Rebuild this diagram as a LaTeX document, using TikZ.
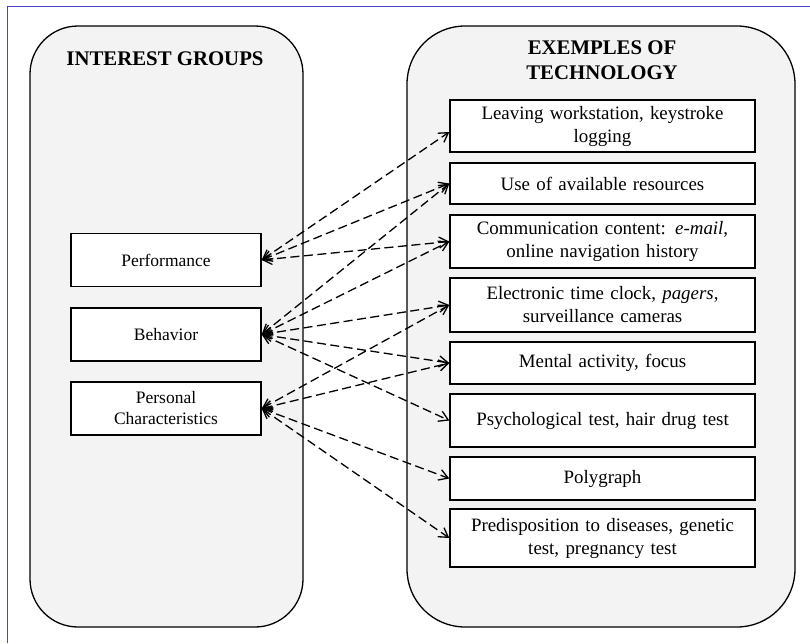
\documentclass[tikz,border=0pt]{standalone}
\usepackage{fontspec}
\setmainfont{Liberation Serif}
\usetikzlibrary{arrows.meta}
\definecolor{panelgray}{RGB}{243,243,243}
\definecolor{frameblue}{RGB}{70,70,205}
\begin{document}
\begin{tikzpicture}[x=1pt,y=-1pt,
  panel/.style={draw=black, line width=1.3pt, fill=panelgray},
  itembox/.style={draw=black, line width=1.4pt, fill=white, align=center, inner xsep=1pt, inner ysep=0pt, text width=303pt, font=\fontsize{18.9}{23}\selectfont},
  groupbox/.style={draw=black, line width=1.4pt, fill=white, align=center, inner sep=0pt, minimum width=190pt, minimum height=53pt, font=\fontsize{17.5}{21}\selectfont},
  paneltitle/.style={font=\bfseries\fontsize{20.8}{25}\selectfont, align=center},
  link/.style={dash pattern=on 9pt off 4.5pt, line width=1.3pt, {Straight Barb[length=9pt,width=11pt,line width=1.3pt]}-{Straight Barb[length=9pt,width=11pt,line width=1.3pt]}}
]
\useasboundingbox (0,0) rectangle (810,643);
\fill[white] (0,0) rectangle (810,643);
\draw[frameblue, line width=0.8pt] (7,643) -- (7,6) -- (810,6);

\draw[panel, rounded corners=48pt] (30,26) rectangle (303,627);
\draw[panel, rounded corners=58pt] (407,26) rectangle (795,627);

\node[paneltitle] (tl) at (165,59) {INTEREST GROUPS};
\node[paneltitle] (tr) at (602,60) {EXEMPLES OF\\TECHNOLOGY};

\node[groupbox] (perf) at (166,260) {Performance};
\node[groupbox] (beh) at (166,334.5) {Behavior};
\node[groupbox] (pers) at (166,408.5) {Personal\\Characteristics};

\node[itembox, minimum height=52pt] (lw) at (602.5,126) {Leaving workstation, keystroke\\logging};
\node[itembox, minimum height=41pt] (use) at (602.5,183.5) {Use of available resources};
\node[itembox, minimum height=53pt] (com) at (602.5,241.5) {Communication content: \textit{e-mail},\\online navigation history};
\node[itembox, minimum height=54pt] (ele) at (602.5,305) {Electronic time clock, \textit{pagers},\\surveillance cameras};
\node[itembox, minimum height=42pt] (men) at (602.5,363) {Mental activity, focus};
\node[itembox, minimum height=53pt] (psy) at (602.5,420.5) {Psychological test, hair drug test};
\node[itembox, minimum height=43pt] (pol) at (602.5,478.5) {Polygraph};
\node[itembox, minimum height=58pt] (pre) at (602.5,538) {Predisposition to diseases, genetic\\test, pregnancy test};

\draw[link] (perf.east) -- ([yshift=-6pt]lw.west);
\draw[link] (perf.east) -- (use.west);
\draw[link] (perf.east) -- (com.west);
\draw[link] (beh.east) -- (use.west);
\draw[link] (beh.east) -- (com.west);
\draw[link] (beh.east) -- (ele.west);
\draw[link] (beh.east) -- (men.west);
\draw[link] (beh.east) -- (psy.west);
\draw[link] (pers.east) -- (ele.west);
\draw[link] (pers.east) -- (men.west);
\draw[link] (pers.east) -- (pol.west);
\draw[link] (pers.east) -- (pre.west);
\end{tikzpicture}
\end{document}
